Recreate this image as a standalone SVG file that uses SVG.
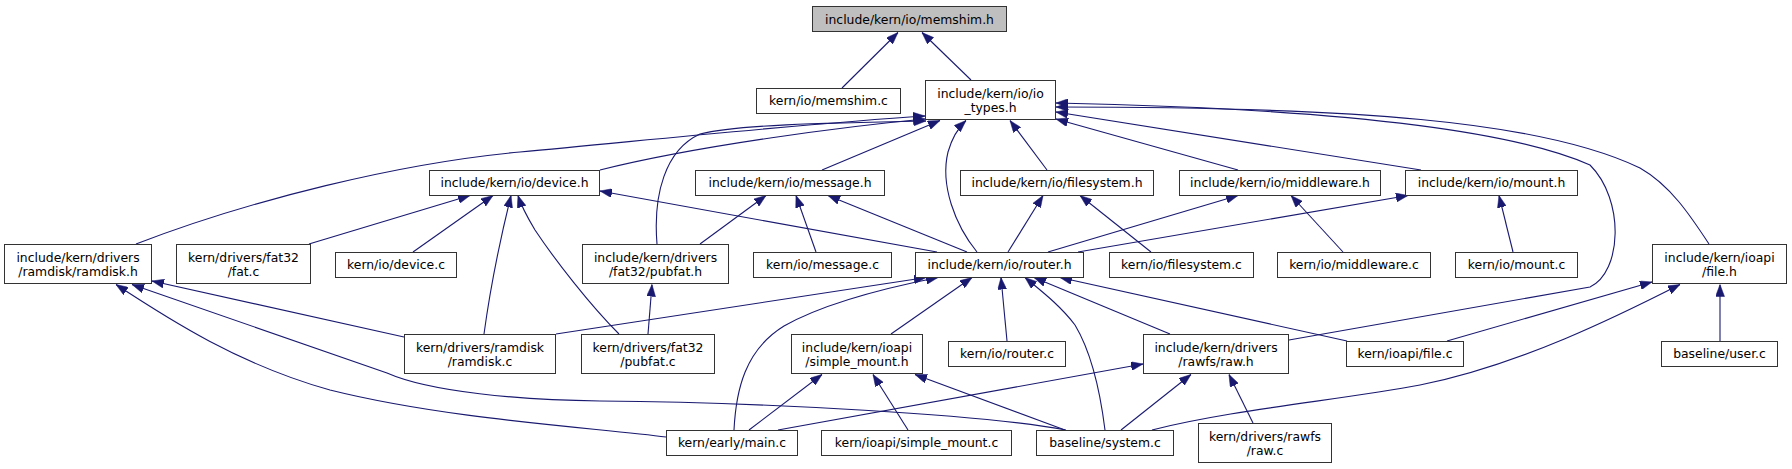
<svg xmlns="http://www.w3.org/2000/svg" width="1792" height="469" viewBox="0 0 1792 469">
<style>
.n rect{fill:#fff;stroke:#333;stroke-width:1}
.root rect{fill:#bfbfbf}
.n text{font-family:"DejaVu Sans",sans-serif;font-size:12.4px;fill:#000;text-anchor:middle}
.e path{fill:none;stroke:#191970;stroke-width:1.1;marker-end:url(#ah)}
</style>
<defs>
<marker id="ah" viewBox="0 0 12 9" refX="12" refY="4.5" markerWidth="12" markerHeight="9" markerUnits="userSpaceOnUse" orient="auto">
<path d="M0,0 L12,4.5 L0,9 z" fill="#191970" stroke="#191970" stroke-width="0.5"/>
</marker>
</defs>
<rect width="1792" height="469" fill="#fff"/>
<g class="e" id="edges">
<path d="M842,88 L898,32.5"/>
<path d="M971,80 L922,32.5"/>
<path d="M600,170 C700,145 850,126 925,119"/>
<path d="M136,244 C250,200 400,163 520,152 C650,140 800,124 925,116"/>
<path d="M657,244 C653,195 665,150 700,134 C735,125 820,123 926,121"/>
<path d="M822,170 L940,120.5"/>
<path d="M977,252 C955,225 940,185 948,152 C952,138 958,128 966,120.5"/>
<path d="M1047,170 L1010,120.5"/>
<path d="M1238,170 L1056,119"/>
<path d="M1421,170 L1056,112"/>
<path d="M1289,340 L1590,287 C1622,272 1625,200 1590,165 C1500,125 1300,108 1056,103"/>
<path d="M1709,244 C1690,215 1670,185 1640,168 C1540,120 1350,107 1056,107"/>
<path d="M309,244 L470,195.5"/>
<path d="M413,252 L493,195.5"/>
<path d="M484,334 C490,290 500,240 511,195.5"/>
<path d="M619,334 C590,305 555,260 535,230 C526,215 521,205 518,195.5"/>
<path d="M937,252 L600,191"/>
<path d="M700,244 L766,195.5"/>
<path d="M816,252 L796,195.5"/>
<path d="M967,252 L828,195.5"/>
<path d="M1008,252 L1043,195.5"/>
<path d="M1151,252 L1080,195.5"/>
<path d="M1048,252 L1238,195.5"/>
<path d="M1343,252 L1291,195.5"/>
<path d="M1078,252 L1408,195.5"/>
<path d="M1513,252 L1499,195.5"/>
<path d="M404,337 L152,281"/>
<path d="M1066,430 C990,415 760,402 600,401 C520,400 430,392 387,373 L132,284.5"/>
<path d="M666,437 C600,428 450,420 330,390 C240,365 170,320 116,284.5"/>
<path d="M648,334 L652,284.5"/>
<path d="M556,334 L926,277.5"/>
<path d="M734,430 C736,390 745,350 784,326 C830,300 900,285 938,277.5"/>
<path d="M891,334 L972,277.5"/>
<path d="M1007,341 L1001,277.5"/>
<path d="M1105,430 C1100,390 1090,350 1075,325 C1060,305 1040,290 1025,277.5"/>
<path d="M1170,334 L1034,277.5"/>
<path d="M1347,341 L1060,277.5"/>
<path d="M1447,341 L1652,282"/>
<path d="M1152,430 C1230,410 1340,400 1420,385 C1520,365 1620,315 1680,284.5"/>
<path d="M1720,341 L1720,284.5"/>
<path d="M749,430 L822,374.5"/>
<path d="M908,430 L873,374.5"/>
<path d="M1065,430 L915,374.5"/>
<path d="M778,430 L1143,364"/>
<path d="M1121,430 L1191,374.5"/>
<path d="M1253,423 L1229,374.5"/>
</g>
<g class="n root" id="n_memshim_h"><rect x="812.5" y="6.5" width="194" height="25"/><text x="909.5" y="23.5">include/kern/io/memshim.h</text></g>
<g class="n" id="n_memshim_c"><rect x="756.5" y="88.5" width="144" height="25"/><text x="828.5" y="105.4">kern/io/memshim.c</text></g>
<g class="n" id="n_io_types_h"><rect x="925.5" y="80.5" width="130" height="39"/><text x="990.5" y="97.5">include/kern/io/io</text><text x="990.5" y="111.5">_types.h</text></g>
<g class="n" id="n_device_h"><rect x="429.5" y="170.5" width="170" height="25"/><text x="514.5" y="187.4">include/kern/io/device.h</text></g>
<g class="n" id="n_message_h"><rect x="695.5" y="170.5" width="189" height="25"/><text x="790" y="187.4">include/kern/io/message.h</text></g>
<g class="n" id="n_filesystem_h"><rect x="960.5" y="170.5" width="193" height="25"/><text x="1057" y="187.4">include/kern/io/filesystem.h</text></g>
<g class="n" id="n_middleware_h"><rect x="1179.5" y="170.5" width="201" height="25"/><text x="1280" y="187.4">include/kern/io/middleware.h</text></g>
<g class="n" id="n_mount_h"><rect x="1405.5" y="170.5" width="172" height="25"/><text x="1491.5" y="187.4">include/kern/io/mount.h</text></g>
<g class="n" id="n_ramdisk_h"><rect x="4.5" y="244.5" width="147" height="39"/><text x="78" y="261.5">include/kern/drivers</text><text x="78" y="275.5">/ramdisk/ramdisk.h</text></g>
<g class="n" id="n_fat_c"><rect x="176.5" y="244.5" width="134" height="39"/><text x="243.5" y="261.5">kern/drivers/fat32</text><text x="243.5" y="275.5">/fat.c</text></g>
<g class="n" id="n_device_c"><rect x="335.5" y="252.5" width="121" height="25"/><text x="396" y="269.4">kern/io/device.c</text></g>
<g class="n" id="n_pubfat_h"><rect x="582.5" y="244.5" width="146" height="39"/><text x="655.5" y="261.5">include/kern/drivers</text><text x="655.5" y="275.5">/fat32/pubfat.h</text></g>
<g class="n" id="n_message_c"><rect x="753.5" y="252.5" width="138" height="25"/><text x="822.5" y="269.4">kern/io/message.c</text></g>
<g class="n" id="n_router_h"><rect x="915.5" y="252.5" width="168" height="25"/><text x="999.5" y="269.4">include/kern/io/router.h</text></g>
<g class="n" id="n_filesystem_c"><rect x="1109.5" y="252.5" width="144" height="25"/><text x="1181.5" y="269.4">kern/io/filesystem.c</text></g>
<g class="n" id="n_middleware_c"><rect x="1277.5" y="252.5" width="153" height="25"/><text x="1354" y="269.4">kern/io/middleware.c</text></g>
<g class="n" id="n_mount_c"><rect x="1455.5" y="252.5" width="122" height="25"/><text x="1516.5" y="269.4">kern/io/mount.c</text></g>
<g class="n" id="n_file_h"><rect x="1652.5" y="244.5" width="134" height="39"/><text x="1719.5" y="261.5">include/kern/ioapi</text><text x="1719.5" y="275.5">/file.h</text></g>
<g class="n" id="n_ramdisk_c"><rect x="404.5" y="334.5" width="151" height="39"/><text x="480" y="351.5">kern/drivers/ramdisk</text><text x="480" y="365.5">/ramdisk.c</text></g>
<g class="n" id="n_pubfat_c"><rect x="581.5" y="334.5" width="133" height="39"/><text x="648" y="351.5">kern/drivers/fat32</text><text x="648" y="365.5">/pubfat.c</text></g>
<g class="n" id="n_simple_mount_h"><rect x="791.5" y="334.5" width="131" height="39"/><text x="857" y="351.5">include/kern/ioapi</text><text x="857" y="365.5">/simple_mount.h</text></g>
<g class="n" id="n_router_c"><rect x="948.5" y="341.5" width="117" height="25"/><text x="1007" y="358.4">kern/io/router.c</text></g>
<g class="n" id="n_raw_h"><rect x="1143.5" y="334.5" width="145" height="39"/><text x="1216" y="351.5">include/kern/drivers</text><text x="1216" y="365.5">/rawfs/raw.h</text></g>
<g class="n" id="n_file_c"><rect x="1346.5" y="341.5" width="117" height="25"/><text x="1405" y="358.4">kern/ioapi/file.c</text></g>
<g class="n" id="n_user_c"><rect x="1661.5" y="341.5" width="116" height="25"/><text x="1719.5" y="358.4">baseline/user.c</text></g>
<g class="n" id="n_main_c"><rect x="666.5" y="430.5" width="131" height="25"/><text x="732" y="447.4">kern/early/main.c</text></g>
<g class="n" id="n_simple_mount_c"><rect x="821.5" y="430.5" width="190" height="25"/><text x="916.5" y="447.4">kern/ioapi/simple_mount.c</text></g>
<g class="n" id="n_system_c"><rect x="1036.5" y="430.5" width="137" height="25"/><text x="1105" y="447.4">baseline/system.c</text></g>
<g class="n" id="n_raw_c"><rect x="1198.5" y="423.5" width="133" height="39"/><text x="1265" y="440.5">kern/drivers/rawfs</text><text x="1265" y="454.5">/raw.c</text></g>
</svg>
